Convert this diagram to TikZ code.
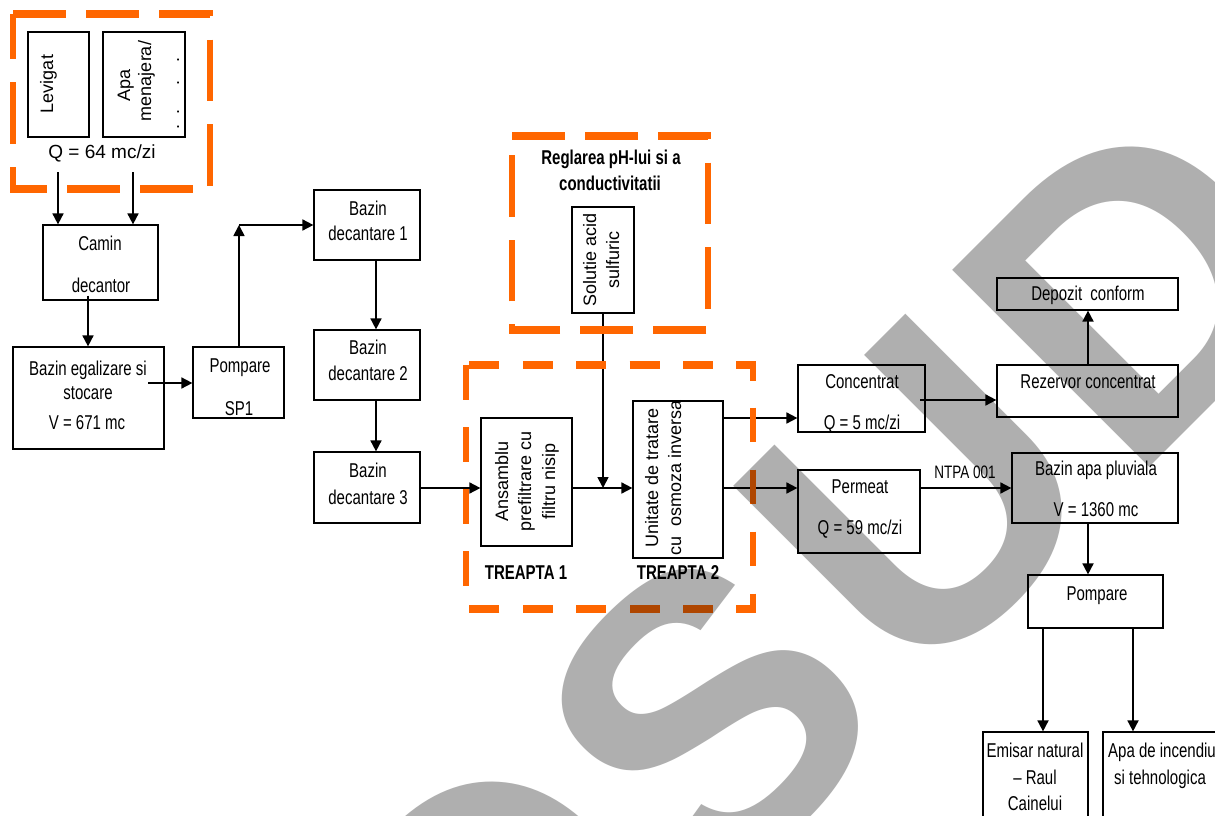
\documentclass[tikz,border=0pt]{standalone}
\usepackage{fontspec}
\setmainfont{Liberation Sans}
\newfontfamily\hfont[FakeStretch=0.75]{Liberation Sans}
\newfontfamily\vfont{Liberation Sans}
\newfontfamily\wmfont{Liberation Sans}
\usetikzlibrary{arrows.meta,fit,calc}
\definecolor{dashorange}{HTML}{FF6600}
\definecolor{wmgray}{HTML}{AFAFAF}

\tikzset{
  box/.style={draw=black, line width=1.2pt, inner sep=0pt},
  htxt/.style={font=\hfont\fontsize{20}{24}\selectfont, anchor=base, inner sep=0pt},
  smalltxt/.style={font=\hfont\fontsize{18}{22}\selectfont, anchor=base, inner sep=0pt},
  qtxt/.style={font=\vfont\fontsize{19}{23}\selectfont, anchor=base, inner sep=0pt},
  btxt/.style={font=\hfont\bfseries\fontsize{20}{24}\selectfont, anchor=base, inner sep=0pt},
  vtxt/.style={font=\vfont\fontsize{18}{22}\selectfont, anchor=base, rotate=90, inner sep=0pt},
  arr/.style={line width=1.7pt, -{Triangle[length=11pt,width=11pt]}},
  zone/.style={draw=dashorange, line width=6.5pt},
  wm/.style={font=\wmfont\bfseries\fontsize{405}{405}\selectfont, text=wmgray,
             rotate=45, anchor=center, inner sep=0pt},
}

\begin{document}
\begin{tikzpicture}[x=1pt, y=-1pt]
\useasboundingbox (0,0) rectangle (1215,816);
\fill[white] (0,0) rectangle (1215,816);
\clip (0,0) rectangle (1215,816);

% ---- boxes ----
\node[box, fit={(28,32) (89,137)}] (lev) {};
\node[box, fit={(103,32) (185,137)}] (apa) {};
\node[box, fit={(43,225) (158,300)}] (camin) {};
\node[box, fit={(13,347) (164,449)}] (egal) {};
\node[box, fit={(193,347) (284,418)}] (pomp1) {};
\node[box, fit={(314,190) (420,260)}] (dec1) {};
\node[box, fit={(314,330) (420,400)}] (dec2) {};
\node[box, fit={(314,452) (420,523)}] (dec3) {};
\node[box, fit={(481,418) (572,546)}] (ans) {};
\node[box, fit={(633,401) (723,558)}] (unit) {};
\node[box, fit={(572,207) (634,313)}] (sol) {};
\node[box, fit={(798,365) (925,432)}] (conc) {};
\node[box, fit={(997,365) (1178,417)}] (rez) {};
\node[box, fit={(997,278) (1178,310)}] (dep) {};
\node[box, fit={(798,470) (920,553)}] (perm) {};
\node[box, fit={(1012,453) (1178,523)}] (pluv) {};
\node[box, fit={(1028,575) (1163,628)}] (pomp2) {};
\node[box, fit={(983,732) (1088,840)}] (emis) {};
\node[box, fit={(1103,732) (1225,840)}] (inc) {};

% ---- texts in the boxes ----
\node[vtxt] (lev-t) at (53,84) {Levigat};
\node[vtxt] (apa-t1) at (130,85) {Apa};
\node[vtxt] (apa-t2) at (151,81) {menajera/};
\node[vtxt] (apa-t3) at (179,93) {.\hspace{9pt}.\hspace{25pt}.\hspace{18pt}.};
\node[qtxt] (q64) at (102,158) {Q = 64 mc/zi};

\node[htxt] (camin-t1) at (100,250) {Camin};
\node[htxt] (camin-t2) at (101,292) {decantor};
\node[htxt] (egal-t1) at (88,375) {Bazin egalizare si};
\node[htxt] (egal-t2) at (88,399) {stocare};
\node[htxt] (egal-t3) at (87,429) {V = 671 mc};
\node[htxt] (pomp1-t1) at (240,372) {Pompare};
\node[htxt] (pomp1-t2) at (239,415) {SP1};
\node[htxt] (dec1-t1) at (368,215) {Bazin};
\node[htxt] (dec1-t2) at (368,240) {decantare 1};
\node[htxt] (dec2-t1) at (368,354) {Bazin};
\node[htxt] (dec2-t2) at (368,380) {decantare 2};
\node[htxt] (dec3-t1) at (368,477) {Bazin};
\node[htxt] (dec3-t2) at (368,504) {decantare 3};

\node[btxt] (ph-t1) at (611,164) {Reglarea pH-lui si a};
\node[btxt] (ph-t2) at (610,190) {conductivitatii};
\node[vtxt] (sol-t1) at (596,260) {Solutie acid};
\node[vtxt] (sol-t2) at (619,260) {sulfuric};

\node[vtxt] (ans-t1) at (508,481) {Ansamblu};
\node[vtxt] (ans-t2) at (531,481) {prefiltrare cu};
\node[vtxt] (ans-t3) at (555,481) {filtru nisip};
\node[vtxt] (unit-t1) at (658,478) {Unitate de tratare};
\node[vtxt] (unit-t2) at (681,478) {cu\ \ osmoza inversa};
\node[btxt] (tr1) at (526,579) {TREAPTA 1};
\node[btxt] (tr2) at (678,579) {TREAPTA 2};

\node[htxt] (conc-t1) at (862,388) {Concentrat};
\node[htxt] (conc-t2) at (862,429) {Q = 5 mc/zi};
\node[htxt] (rez-t) at (1088,388) {Rezervor concentrat};
\node[htxt] (dep-t) at (1088,300) {Depozit\ \ conform};
\node[htxt] (perm-t1) at (860,493) {Permeat};
\node[htxt] (perm-t2) at (860,534) {Q = 59 mc/zi};
\node[smalltxt] (ntpa) at (965,478) {NTPA 001};
\node[htxt] (pluv-t1) at (1096,475) {Bazin apa pluviala};
\node[htxt] (pluv-t2) at (1096,516) {V = 1360 mc};
\node[htxt] (pomp2-t) at (1097,600) {Pompare};
\node[htxt] (emis-t1) at (1035,757) {Emisar natural};
\node[htxt] (emis-t2) at (1035,784) {– Raul};
\node[htxt] (emis-t3) at (1035,810) {Cainelui};
\node[htxt] (inc-t1) at (1162,757) {Apa de incendiu};
\node[htxt] (inc-t2) at (1160,784) {si tehnologica};

% ---- connectors ----
\coordinate (levout) at (58,172);
\coordinate (apaout) at (133,172);
\coordinate (riser) at ([xshift=0.5pt]pomp1.north |- dec1.west);
\coordinate (jn) at (sol.south |- 0,488);
\coordinate (uc) at (723,418);
\coordinate (cr) at (920,400);
\coordinate (ep) at (148,383);

\draw[arr] (levout) -- (levout |- camin.north);
\draw[arr] (apaout) -- (apaout |- camin.north);
\draw[arr] ([xshift=-12.5pt,yshift=5pt]camin.south) -- ([xshift=-12.5pt]camin.south |- egal.north);
\draw[arr] (ep) -- (ep -| pomp1.west);
\draw[arr] ([xshift=0.5pt]pomp1.north) -- (riser);
\draw[arr] (riser) -- (dec1.west);
\draw[arr] ([xshift=9pt]dec1.south) -- ([xshift=9pt]dec2.north);
\draw[arr] ([xshift=9pt]dec2.south) -- ([xshift=9pt]dec3.north);
\draw[arr] (dec3.east |- jn) -- (ans.west |- jn);
\draw[arr] (ans.east |- jn) -- (unit.west |- jn);
\draw[arr] (sol.south) -- (jn);
\draw[arr] (uc) -- (uc -| conc.west);
\draw[arr] (unit.east |- jn) -- (perm.west |- jn);
\draw[arr] (cr) -- (cr -| rez.west);
\draw[arr] ([xshift=0.5pt]rez.north) -- ([xshift=0.5pt]dep.south);
\draw[arr] (perm.east |- jn) -- (pluv.west |- jn);
\draw[arr] ([xshift=-7pt]pluv.south) -- ([xshift=-7pt]pluv.south |- pomp2.north);
\draw[arr] ([xshift=-52.5pt]pomp2.south) -- ([xshift=-52.5pt]pomp2.south |- emis.north);
\draw[arr] ([xshift=37.5pt]pomp2.south) -- ([xshift=37.5pt]pomp2.south |- inc.north);

% ---- dashed orange zones ----
\begin{scope}[transform canvas={yscale=1.16}]
  \draw[zone, dash pattern=on 53pt off 20pt]
    (13,{14/1.16}) -- (210,{14/1.16}) -- (210,{189/1.16}) -- (13,{189/1.16}) -- cycle;
  \draw[zone, dash pattern=on 53pt off 20pt]
    (512,{136/1.16}) -- (708,{136/1.16}) -- (708,{330/1.16}) -- (512,{330/1.16}) -- cycle;
  \draw[zone, dash pattern=on 30pt off 23.4pt, dash phase=50pt]
    (466,{365/1.16}) -- (753,{365/1.16}) -- (753,{609/1.16}) -- (466,{609/1.16}) -- cycle;
\end{scope}

% ---- watermark lettering ----
\begin{scope}[blend mode=multiply]
  \node[wm] (wm-o) at (494,930) {O};
  \node[wm] (wm-s) at (708,716) {S};
  \node[wm] (wm-u) at (920,500) {U};
  \node[wm] (wm-d) at (1135,285) {D};
\end{scope}
\end{tikzpicture}
\end{document}
